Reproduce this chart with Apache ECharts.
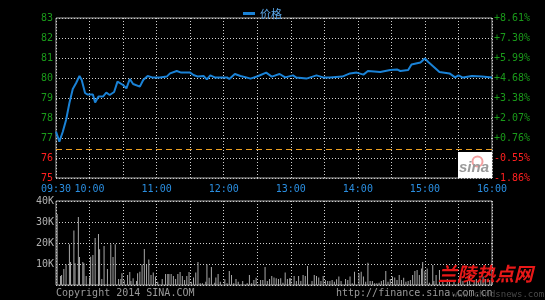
<!DOCTYPE html>
<html>
<head>
<meta charset="utf-8">
<script src="https://cdn.jsdelivr.net/npm/echarts@6/dist/echarts.min.js"></script>
<style>
  html, body { margin: 0; padding: 0; background: #000; }
  #chart { width: 545px; height: 300px; }
</style>
</head>
<body>
<div id="chart"></div>
<script>
// minutes since 09:30 and the price at that minute
const priceMin = [0, 3, 6, 9, 12, 15, 18, 21, 23, 26, 28, 33, 35, 38, 42, 45, 48, 52, 55, 60,
  63, 66, 69, 75, 78, 82, 83, 86, 93, 99, 102, 108, 112, 120, 123, 127, 132, 135, 138, 142,
  153, 155, 160, 165, 171, 174, 181, 188, 193, 200, 205, 212, 215, 224, 233, 239, 245, 256,
  263, 269, 275, 279, 290, 299, 305, 308, 315, 318, 326, 330, 333, 337, 343, 352, 357, 360,
  364, 372, 381, 390]
const priceVal = [77.32, 76.82, 77.3, 77.9, 78.75, 79.45, 79.75, 80.1, 79.9, 79.25, 79.18, 79.18,
  78.77, 79.07, 79.07, 79.27, 79.15, 79.3, 79.82, 79.65, 79.48, 79.95, 79.7, 79.57, 79.9, 80.1,
  80.18, 80.03, 80.03, 80.07, 80.23, 80.35, 80.27, 80.27, 80.15, 80.07, 80.1, 79.93, 80.13,
  80.03, 80.03, 79.95, 80.2, 80.1, 80.02, 79.97, 80.1, 80.27, 80.07, 80.2, 80.03, 80.13, 80.02,
  79.97, 80.13, 80.03, 80.03, 80.07, 80.23, 80.27, 80.17, 80.35, 80.3, 80.4, 80.43, 80.35, 80.4,
  80.68, 80.77, 80.98, 80.8, 80.6, 80.3, 80.23, 80.03, 80.13, 80.02, 80.1, 80.07, 80.03]

// volume bars (minute, thousands of shares)
const volMin = [1, 4, 5, 7, 9, 12, 13, 16, 17, 20, 21, 24, 25, 27, 30, 31, 33, 35, 38, 39, 41, 43,
  46, 49, 51, 53, 56, 58, 59, 61, 64, 66, 67, 69, 72, 73, 75, 77, 79, 81, 83, 85, 87, 89, 91, 95,
  98, 100, 101, 103, 105, 107, 109, 111, 113, 115, 117, 119, 121, 123, 125, 127, 129, 131, 134,
  135, 137, 139, 142, 143, 145, 147, 151, 153, 155, 157, 159, 161, 163, 167, 171, 173, 175, 177,
  179, 183, 185, 187, 189, 191, 193, 195, 197, 199, 201, 203, 205, 207, 209, 210, 213, 215, 217,
  219, 221, 223, 225, 229, 231, 233, 235, 237, 239, 241, 243, 245, 247, 249, 251, 253, 255, 259,
  261, 263, 265, 267, 271, 273, 275, 277, 279, 281, 283, 285, 287, 289, 291, 293, 295, 297, 299,
  301, 303, 305, 307, 309, 311, 313, 315, 317, 319, 321, 323, 325, 327, 328, 330, 332, 334, 337,
  338, 340, 343, 346, 350, 352, 356, 360, 362, 364, 368, 370, 374, 376, 378, 380, 382, 384, 388, 390]
const volK = [33.8, 4.3, 4.8, 7.6, 9.8, 19.4, 11, 26, 10.3, 32.4, 13.3, 11, 10.3, 4.3, 3.6, 13.5,
  14.3, 22.4, 24.3, 17, 2.9, 18.6, 7.6, 19.4, 13.3, 19.4, 2.9, 2.9, 5.6, 2.4, 4.8, 6.2, 1.9, 3.2,
  1.9, 5.6, 6.3, 9.8, 17.1, 9.8, 12.2, 4.8, 5.9, 4, 1.6, 2.9, 5.2, 5.2, 5.2, 5.2, 4.3, 2.9, 5.2,
  6.2, 4.3, 2.4, 4.3, 6.2, 1.6, 3.6, 5.9, 11, 0.8, 0.8, 1.6, 9.8, 3.5, 8.6, 1.1, 3.6, 5.2, 1.6,
  2.7, 0.8, 6.7, 4.8, 0.8, 2.9, 1.6, 1.9, 0.8, 4.8, 0.8, 2.4, 3.5, 2.4, 2.4, 8.6, 1.9, 2.9, 4.3,
  3.6, 3.2, 2.9, 3.2, 1.1, 5.9, 2.9, 3.2, 3.2, 4.3, 1.9, 4.3, 1.9, 4.8, 4.3, 9, 1.9, 4.8, 4.3, 3.6,
  1.9, 4.3, 2.4, 1.9, 1.9, 2.4, 1.6, 2.7, 4, 1.9, 2.9, 2.4, 4, 0.8, 6.3, 5.6, 6.3, 4, 1.6, 10.6,
  1.9, 1.9, 0.8, 0.8, 1.1, 1.9, 2.4, 6.7, 1.6, 2.9, 4, 3.6, 2.4, 4.8, 2.4, 3.5, 1.6, 1.9, 2.4,
  4.8, 6.7, 7.1, 4.8, 7.9, 11, 6.7, 7.9, 1.1, 9.5, 1.9, 4.8, 7.1, 2.4, 2.9, 2.4, 1.9, 2.9, 4, 1.9,
  2.4, 4.8, 2.4, 2.9, 1.9, 2.4, 4, 2.9, 2.4, 3.2]

const prevClose = 76.42
const yTicks = [75, 76, 77, 78, 79, 80, 81, 82, 83]

const mono = 'DejaVu Sans Mono'
const gridLine = { show: true, lineStyle: { color: '#cfcfcf', type: [1, 2], width: 1 } }

function timeLabel(v) {
  const total = 570 + v
  const h = Math.floor(total / 60)
  const m = total % 60
  if (m !== 0 && v !== 0) return ''
  return String(h).padStart(2, '0') + ':' + String(m).padStart(2, '0')
}

const chart = echarts.init(document.getElementById('chart'))

chart.setOption({
  backgroundColor: '#000',
  animation: false,
  legend: {
    data: ['价格'],
    left: 238,
    top: 3,
    icon: 'rect',
    itemWidth: 12,
    itemHeight: 3,
    itemGap: 4,
    textStyle: { color: '#5aa6e6', fontSize: 11, fontFamily: 'Noto Sans CJK SC' }
  },
  grid: [
    { left: 56, right: 53, top: 18, height: 160, show: true, borderColor: '#a8a8a8', borderWidth: 1 },
    { left: 56, right: 53, top: 201, height: 84, show: true, borderColor: '#a8a8a8', borderWidth: 1 }
  ],
  xAxis: [
    {
      type: 'value', gridIndex: 0, min: 0, max: 390, interval: 30,
      axisLine: { show: false }, axisTick: { show: false },
      axisLabel: { color: '#2a8ee0', fontFamily: mono, fontSize: 10, margin: 6, formatter: timeLabel },
      splitLine: gridLine
    },
    {
      type: 'value', gridIndex: 1, min: 0, max: 390, interval: 30,
      axisLine: { show: false }, axisTick: { show: false },
      axisLabel: { show: false },
      splitLine: gridLine
    }
  ],
  yAxis: [
    {
      type: 'value', gridIndex: 0, min: yTicks[0], max: yTicks[yTicks.length - 1], interval: 1,
      axisLine: { show: false }, axisTick: { show: false },
      axisLabel: {
        fontFamily: mono, fontSize: 10, margin: 3,
        color: v => (v >= prevClose ? '#1a9a1a' : '#ff2020')
      },
      splitLine: gridLine
    },
    {
      type: 'value', gridIndex: 0, position: 'right', min: yTicks[0], max: yTicks[yTicks.length - 1], interval: 1,
      axisLine: { show: false }, axisTick: { show: false },
      axisLabel: {
        fontFamily: mono, fontSize: 10, margin: 2,
        color: v => (v >= prevClose ? '#1a9a1a' : '#ff2020'),
        formatter: v => {
          const p = (v / prevClose - 1) * 100
          return (p >= 0 ? '+' : '-') + Math.abs(p).toFixed(2) + '%'
        }
      },
      splitLine: { show: false }
    },
    {
      type: 'value', gridIndex: 1, min: 0, max: 40, interval: 10,
      axisLine: { show: false }, axisTick: { show: false },
      axisLabel: {
        color: '#b0b0b0', fontFamily: mono, fontSize: 10, margin: 2,
        formatter: v => (v === 0 ? '' : v + 'K')
      },
      splitLine: gridLine
    }
  ],
  series: [
    {
      name: '价格',
      type: 'line',
      xAxisIndex: 0,
      yAxisIndex: 0,
      data: priceMin.map((m, i) => [m, priceVal[i]]),
      showSymbol: false,
      lineStyle: { color: '#1a82d6', width: 2 },
      itemStyle: { color: '#1a82d6' },
      markLine: {
        silent: true,
        symbol: 'none',
        label: { show: false },
        lineStyle: { color: '#f0a020', type: [6, 4], width: 1 },
        data: [{ yAxis: prevClose }]
      }
    },
    {
      name: '成交量',
      type: 'bar',
      xAxisIndex: 1,
      yAxisIndex: 2,
      data: volMin.map((m, i) => [m, volK[i]]),
      barWidth: 1,
      itemStyle: { color: '#a8a8a8' }
    }
  ],
  graphic: [
    // sina logo box
    { type: 'rect', left: 458, top: 152, shape: { width: 34, height: 26 }, style: { fill: '#fff' }, z: 10 },
    { type: 'circle', left: 470, top: 154, shape: { r: 5 }, style: { fill: 'none', stroke: '#f4a0a0', lineWidth: 2 }, z: 11 },
    {
      type: 'text', left: 459, top: 160, z: 11,
      style: { text: 'sina', fill: '#9a9a9a', font: 'italic bold 15px Liberation Sans' }
    },
    {
      type: 'text', left: 56, top: 288,
      style: { text: 'Copyright 2014 SINA.COM', fill: '#9a9a9a', font: '10px ' + mono }
    },
    {
      type: 'text', left: 336, top: 288,
      style: { text: 'http://finance.sina.com.cn', fill: '#9a9a9a', font: '10px ' + mono }
    },
    {
      type: 'text', left: 452, top: 290, z: 12,
      style: { text: 'www.chndsnews.com', fill: 'rgba(120,120,120,0.6)', font: '9px ' + mono }
    },
    {
      type: 'text', left: 438, top: 264, z: 12,
      style: { text: '兰陵热点网', fill: '#e81818', font: 'italic bold 19px Noto Sans CJK SC' }
    }
  ]
})
</script>
</body>
</html>
